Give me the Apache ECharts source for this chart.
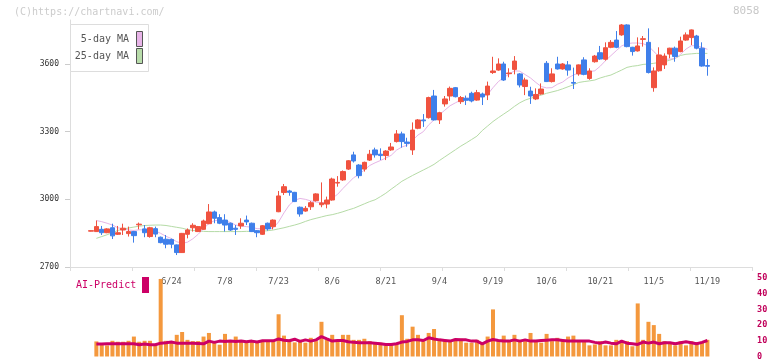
<!DOCTYPE html>
<html><head><meta charset="utf-8">
<script src="https://cdn.jsdelivr.net/npm/echarts@6/dist/echarts.min.js"></script>
<style>html,body{margin:0;padding:0;background:#fff}#c{width:772px;height:361px}</style>
</head><body><div id="c"></div>
<script>
const dates = ["6/3","6/4","6/5","6/6","6/9","6/10","6/11","6/12","6/13","6/16","6/17","6/18","6/19","6/20","6/23",
"6/24","6/25","6/26","6/27","6/30","7/1","7/2","7/3","7/4","7/7",
"7/8","7/9","7/10","7/11","7/14","7/15","7/16","7/17","7/18","7/22",
"7/23","7/24","7/25","7/28","7/29","7/30","7/31","8/1","8/4","8/5",
"8/6","8/7","8/8","8/12","8/13","8/14","8/15","8/18","8/19","8/20",
"8/21","8/22","8/25","8/26","8/27","8/28","8/29","9/1","9/2","9/3",
"9/4","9/5","9/8","9/9","9/10","9/11","9/12","9/16","9/17","9/18",
"9/19","9/22","9/24","9/25","9/26","9/29","9/30","10/1","10/2","10/3",
"10/6","10/7","10/8","10/9","10/10","10/14","10/15","10/16","10/17","10/20",
"10/21","10/22","10/23","10/24","10/27","10/28","10/29","10/30","10/31","11/4",
"11/5","11/6","11/7","11/10","11/11","11/12","11/13","11/14","11/17","11/18","11/19"];

const open = [2859,2857,2867,2852,2874,2845,2864,2848,2857,2887,2869,2835,2870,2832,2823,
2822,2798,2764,2845,2874,2857,2867,2892,2944,2919,
2908,2894,2872,2882,2908,2894,2861,2845,2894,2879,
2945,3030,3037,3031,2965,2948,2967,2994,2976,2979,
2997,3072,3086,3134,3197,3152,3134,3174,3219,3200,
3194,3219,3256,3290,3254,3219,3315,3352,3362,3458,
3352,3423,3458,3495,3433,3448,3470,3440,3467,3463,
3562,3573,3600,3557,3576,3556,3500,3480,3445,3467,
3603,3522,3600,3578,3596,3518,3556,3618,3536,3610,
3650,3621,3674,3706,3729,3773,3674,3658,3709,3696,
3495,3570,3596,3644,3670,3655,3706,3717,3724,3670,3593];
const close = [2861,2879,2852,2869,2838,2852,2872,2857,2839,2890,2852,2874,2846,2808,2801,
2801,2764,2849,2864,2885,2879,2904,2944,2916,2894,
2886,2864,2867,2894,2900,2857,2852,2883,2869,2908,
3015,3056,3031,2990,2935,2960,2985,3024,2984,2997,
3090,3075,3123,3171,3170,3105,3164,3200,3197,3194,
3214,3232,3290,3256,3248,3307,3352,3348,3451,3352,
3384,3445,3492,3455,3451,3439,3436,3473,3454,3502,
3569,3600,3529,3560,3613,3507,3529,3458,3465,3489,
3522,3556,3578,3600,3573,3515,3596,3554,3569,3635,
3622,3672,3696,3674,3773,3677,3655,3680,3712,3562,
3569,3640,3635,3670,3633,3702,3729,3751,3670,3591,3590];
const low = [2858,2856,2842,2850,2824,2842,2842,2835,2808,2867,2832,2830,2832,2805,2783,
2783,2753,2762,2827,2857,2855,2865,2890,2894,2890,
2857,2860,2842,2869,2886,2855,2832,2842,2861,2867,
2943,3019,3016,2988,2923,2945,2953,2990,2965,2960,
2994,3056,3082,3130,3163,3093,3123,3170,3185,3174,
3174,3215,3252,3229,3233,3197,3311,3321,3358,3350,
3334,3411,3437,3452,3423,3418,3430,3437,3418,3440,
3556,3570,3525,3541,3554,3496,3462,3423,3440,3464,
3520,3518,3575,3575,3548,3489,3548,3550,3530,3606,
3618,3615,3670,3670,3725,3674,3637,3655,3677,3558,
3477,3566,3578,3625,3610,3652,3703,3684,3665,3588,3548];
const high = [2862,2906,2882,2872,2892,2882,2892,2879,2860,2897,2886,2878,2879,2835,2842,
2826,2800,2851,2871,2894,2882,2910,2979,2950,2934,
2934,2897,2886,2916,2928,2897,2864,2886,2897,2911,
3037,3068,3042,3033,2968,2970,2992,3027,3075,3012,
3096,3103,3128,3174,3211,3156,3167,3219,3229,3226,
3218,3250,3307,3300,3273,3341,3356,3378,3455,3485,
3388,3458,3500,3498,3458,3460,3477,3485,3473,3522,
3632,3625,3610,3581,3635,3560,3539,3499,3492,3514,
3613,3581,3632,3604,3613,3584,3598,3630,3581,3640,
3680,3696,3706,3746,3777,3776,3676,3718,3724,3758,
3585,3674,3647,3672,3677,3721,3740,3753,3729,3696,3622];

const ma5 = [null,2906,2901,2894,2886,2874,2869,2864,2862,2865,2864,2862,2860,2849,2836,
2826,2812,2805,2810,2825,2845,2870,2893,2905,2908,
2906,2897,2886,2882,2879,2876,2870,2869,2869,2873,
2900,2940,2975,2996,3004,3000,2993,2988,2985,2988,
3005,3022,3048,3072,3096,3110,3130,3150,3162,3172,
3183,3195,3218,3232,3240,3262,3285,3300,3330,3352,
3375,3395,3415,3428,3440,3448,3450,3450,3455,3465,
3495,3522,3540,3555,3570,3568,3553,3538,3518,3500,
3494,3495,3510,3520,3538,3551,3560,3565,3566,3570,
3590,3615,3637,3659,3680,3690,3693,3693,3690,3680,
3655,3633,3622,3621,3625,3643,3666,3681,3681,3674,3665];
const ma25 = [null,2827,2835,2843,2852,2862,2868,2873,2877,2881,2884,2885,2886,2886,2884,
2880,2876,2872,2866,2862,2860,2858,2857,2857,2857,
2857,2857,2857,2857,2858,2858,2858,2859,2861,2864,
2869,2874,2880,2886,2893,2902,2910,2916,2922,2928,
2932,2938,2945,2953,2960,2970,2980,2990,2998,3012,
3027,3045,3062,3080,3093,3106,3118,3130,3142,3155,
3172,3188,3204,3220,3236,3250,3265,3280,3305,3325,
3345,3362,3378,3394,3412,3428,3440,3448,3455,3462,
3470,3476,3482,3490,3499,3508,3518,3522,3525,3529,
3538,3545,3551,3562,3573,3585,3590,3593,3598,3600,
3603,3607,3610,3617,3625,3638,3643,3645,3647,3647,3647];

const volume = [null,9.6,7.9,7.1,10.0,9.4,9.4,10.0,12.7,9.4,10.0,10.0,7.9,49.4,10.0,
9.6,13.8,15.6,10.6,9.8,9.8,12.7,15.0,9.6,7.5,
14.4,9.8,12.7,9.8,9.8,9.4,9.8,9.8,9.8,9.8,
26.9,13.3,9.8,9.0,10.6,8.8,11.9,9.8,22.1,10.6,
13.8,9.8,13.8,13.8,10.6,10.6,11.3,9.8,8.8,8.8,
7.1,8.1,8.1,26.3,11.3,19.0,13.8,9.8,15.0,17.5,
10.6,10.6,9.8,11.3,11.3,8.8,8.8,10.6,8.1,12.7,
30.0,9.8,13.3,9.8,13.8,10.6,9.8,15.0,9.8,8.8,
14.4,9.8,11.9,9.8,12.7,13.3,9.8,9.8,7.1,7.7,
9.8,7.1,7.1,10.6,9.8,9.8,6.5,33.8,10.6,22.1,
20.0,14.4,9.8,8.8,7.1,9.8,7.1,9.8,9.2,8.8,10.6];
const aiPredict = [null,7.9,7.9,8.1,8.1,8.1,8.1,8.1,8.1,7.5,7.9,7.5,7.5,8.5,8.8,
9.2,8.5,8.5,8.5,8.5,8.3,8.1,9.8,9.0,9.8,
9.6,9.8,9.6,9.8,9.4,9.8,9.2,10.0,10.0,10.0,
11.2,10.4,10.0,11.0,9.6,10.6,9.8,10.6,12.7,11.2,
9.8,10.2,10.2,9.4,9.0,8.8,8.8,8.8,8.5,8.1,
7.7,7.7,8.1,9.2,9.6,10.6,10.6,10.2,11.9,11.2,
10.6,10.2,9.8,10.8,10.6,10.6,9.8,9.8,8.1,9.8,
10.8,10.2,9.8,9.8,10.6,9.8,10.6,9.8,9.8,10.2,
10.4,10.6,10.6,10.2,9.8,9.8,9.8,9.8,9.8,9.0,
8.5,9.2,8.5,8.1,9.8,8.5,8.1,7.7,9.2,8.5,
9.2,8.1,8.8,8.8,8.1,8.8,9.4,8.8,8.1,9.0,10.2];

const priceMin = 2700, priceMax = 3795, priceStep = 300;
const volMin = 0, volMax = 50, volStep = 10;

const FONT = '"DejaVu Sans Mono", "Liberation Mono", monospace';
const UP = '#f0523f', DOWN = '#3f7fea';
const candles = dates.map((d, i) => [open[i], close[i], low[i], high[i]]);

const chart = echarts.init(document.getElementById('c'), null, {renderer: 'canvas'});
const CL = 88.32, CW = 621.76;
chart.setOption({
  animation: false,
  backgroundColor: '#fff',
  grid: [
    {left: 70, right: 20, top: 20, bottom: 94},
    {left: CL, width: CW, top: 20, bottom: 94},
    {left: CL, width: CW, top: 278, bottom: 3}
  ],
  xAxis: [
    {type: 'value', gridIndex: 0, min: 0, max: 11, interval: 1,
     axisLine: {show: true, lineStyle: {color: '#dddddd', width: 1}},
     axisTick: {show: true, length: 4, lineStyle: {color: '#dddddd'}},
     axisLabel: {show: false}, splitLine: {show: false}},
    {type: 'category', gridIndex: 1, data: dates, boundaryGap: true,
     axisLine: {show: false}, axisTick: {show: false}, splitLine: {show: false},
     axisLabel: {interval: (idx) => idx >= 15 && (idx - 15) % 10 === 0,
       fontFamily: FONT, fontSize: 8.5, color: '#555', margin: 10}},
    {type: 'category', gridIndex: 2, data: dates, boundaryGap: true, show: false}
  ],
  yAxis: [
    {type: 'value', gridIndex: 0, min: priceMin, max: priceMax, interval: priceStep,
     axisLine: {show: true, lineStyle: {color: '#dddddd'}},
     axisTick: {show: true, length: 5, lineStyle: {color: '#cccccc'}},
     axisLabel: {fontFamily: FONT, fontSize: 8, color: '#333', margin: 11, showMaxLabel: false,
       formatter: (v) => String(v)},
     splitLine: {show: false}},
    {type: 'value', gridIndex: 1, min: priceMin, max: priceMax, show: false, splitLine: {show: false}},
    {type: 'value', gridIndex: 2, min: volMin, max: volMax, interval: volStep, position: 'right', offset: 40,
     axisLine: {show: false}, axisTick: {show: false}, splitLine: {show: false},
     axisLabel: {fontFamily: FONT, fontSize: 8.5, fontWeight: 'bold', color: '#c0005a', margin: 7}}
  ],
  series: [
    {type: 'line', name: '25-day MA', xAxisIndex: 1, yAxisIndex: 1, data: ma25, symbol: 'none',
     lineStyle: {color: '#b5dba6', width: 1}, z: 3},
    {type: 'line', name: '5-day MA', xAxisIndex: 1, yAxisIndex: 1, data: ma5, symbol: 'none',
     lineStyle: {color: '#e6b4e6', width: 1}, z: 3},
    {type: 'candlestick', xAxisIndex: 1, yAxisIndex: 1, data: candles, barWidth: 5,
     itemStyle: {color: UP, color0: DOWN, borderColor: UP, borderColor0: DOWN, borderWidth: 1}, z: 4},
    {type: 'bar', name: 'volume', xAxisIndex: 2, yAxisIndex: 2, data: volume, barWidth: 4,
     itemStyle: {color: '#f4983d'}, z: 2},
    {type: 'line', name: 'AI-Predict', xAxisIndex: 2, yAxisIndex: 2, data: aiPredict, symbol: 'none',
     lineStyle: {color: '#cc0066', width: 3}, z: 3}
  ],
  graphic: [
    {type: 'text', left: 14, top: 7, z: 100, style: {text: '(C)https://chartnavi.com/', font: '10px ' + FONT, fill: '#cccccc'}},
    {type: 'text', left: 733, top: 6, z: 100, style: {text: '8058', font: '11px ' + FONT, fill: '#c8c8c8'}},
    {type: 'rect', z: 100, shape: {x: 70.5, y: 24.5, width: 78, height: 47}, style: {fill: '#fff', stroke: '#dddddd', lineWidth: 1}},
    {type: 'text', z: 101, x: 129, y: 39, style: {text: '5-day MA', font: '10px ' + FONT, fill: '#555', align: 'right', verticalAlign: 'middle'}},
    {type: 'text', z: 101, x: 129, y: 56, style: {text: '25-day MA', font: '10px ' + FONT, fill: '#555', align: 'right', verticalAlign: 'middle'}},
    {type: 'rect', z: 101, shape: {x: 136.5, y: 31.5, width: 6, height: 15}, style: {fill: '#e8b4e8', stroke: '#555', lineWidth: 1}},
    {type: 'rect', z: 101, shape: {x: 136.5, y: 48.5, width: 6, height: 15}, style: {fill: '#b8dcaa', stroke: '#555', lineWidth: 1}},
    {type: 'text', z: 101, x: 76, y: 285, style: {text: 'AI-Predict', font: '10px ' + FONT, fill: '#cc0066', verticalAlign: 'middle'}},
    {type: 'rect', z: 101, shape: {x: 142, y: 277, width: 7, height: 16}, style: {fill: '#cc0066'}}
  ]
});
</script></body></html>
